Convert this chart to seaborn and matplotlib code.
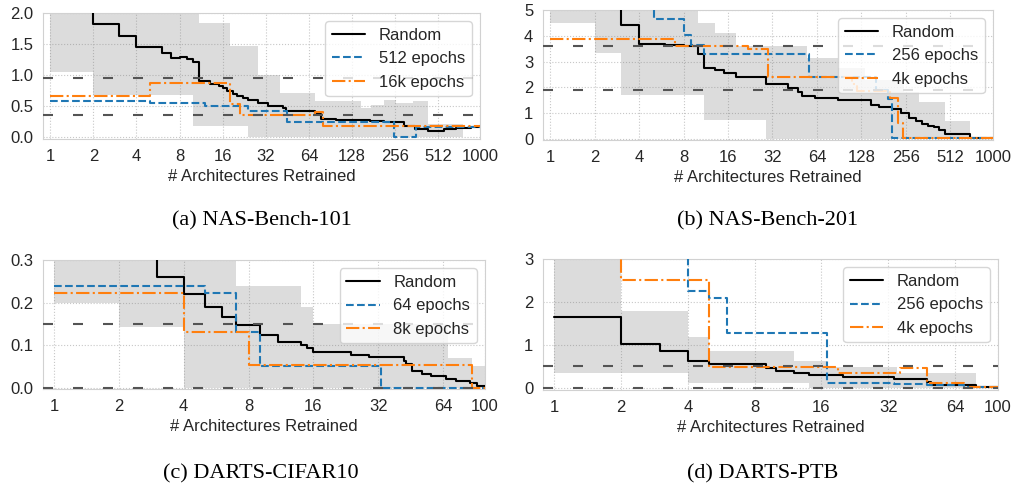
import numpy as np
import pandas as pd
import matplotlib
matplotlib.use("Agg")
import matplotlib.pyplot as plt
from matplotlib.ticker import FixedLocator, FixedFormatter, NullLocator, FormatStrFormatter
import seaborn as sns

# ---- (a) NAS-Bench-101 ----
rand_a_x = [1, 2, 3, 4, 6, 7, 8, 9, 10, 11, 13, 15, 16, 17, 19, 20, 22, 24, 28, 33, 42, 44, 70, 78, 99, 170, 214, 297, 350, 435, 560, 680, 870, 1000]
rand_a_y = [2.9, 1.82, 1.63, 1.46, 1.36, 1.28, 1.30, 1.26, 1.22, 0.90, 0.86, 0.82, 0.79, 0.75, 0.70, 0.66, 0.63, 0.60, 0.55, 0.51, 0.47, 0.42, 0.37, 0.30, 0.28, 0.26, 0.25, 0.19, 0.14, 0.11, 0.13, 0.15, 0.17, 0.18]
lo_a_x = [1, 5, 12, 24, 45, 250, 360, 1000]
lo_a_y = [0.59, 0.55, 0.51, 0.43, 0.25, 0.01, 0.17, 0.17]
hi_a_x = [1, 5, 18, 21, 70, 80, 1000]
hi_a_y = [0.67, 0.87, 0.54, 0.36, 0.41, 0.18, 0.18]
band_a_x = [1, 2, 10, 11, 18, 24, 28, 40, 71, 148, 173, 214, 258, 340, 435, 760, 1000]
band_a_up = [2.5, 2.5, 2.5, 1.84, 1.47, 1.47, 1.0, 0.71, 0.59, 0.47, 0.52, 0.60, 0.55, 0.58, 0.22, 0.18, 0.18]
band_a_low = [1.05, 0.69, 0.18, 0.18, 0.18, 0.0, 0.0, 0.0, 0.0, 0.0, 0.0, 0.0, 0.0, 0.0, 0.0, 0.18, 0.18]
ref_a = [0.95, 0.36]
labels_a = ["512 epochs", "16k epochs"]

# ---- (b) NAS-Bench-201 ----
rand_b_x = [1, 3, 4, 6, 8, 10, 11, 13, 15, 18, 29, 41, 48, 51, 62, 89, 149, 170, 208, 239, 270, 300, 330, 360, 400, 430, 470, 700, 1000]
rand_b_y = [7.0, 4.42, 3.70, 3.66, 3.60, 3.28, 2.76, 2.67, 2.55, 2.42, 2.14, 1.99, 1.82, 1.68, 1.59, 1.51, 1.30, 1.25, 1.15, 1.0, 0.82, 0.70, 0.58, 0.50, 0.45, 0.35, 0.21, 0.03, 0.03]
lo_b_x = [1, 5, 8, 9, 11, 57, 160, 195, 208, 1000]
lo_b_y = [6.0, 4.65, 4.05, 3.66, 3.28, 2.40, 1.90, 1.55, 0.03, 0.03]
hi_b_x = [1, 7, 22, 30, 110, 120, 200, 226, 245, 1000]
hi_b_y = [3.88, 3.62, 3.50, 2.40, 2.15, 1.85, 1.58, 0.6, 0.03, 0.03]
band_b_x = [1, 2, 3, 10, 11, 13, 18, 29, 55, 89, 135, 250, 317, 470, 700, 1000]
band_b_up = [6.0, 6.0, 6.0, 4.5, 4.5, 4.1, 3.62, 3.62, 3.15, 2.75, 2.3, 1.83, 1.45, 0.7, 0.05, 0.05]
band_b_low = [4.5, 3.32, 1.7, 1.7, 0.74, 0.74, 0.74, 0.0, 0.0, 0.0, 0.0, 0.0, 0.0, 0.0, 0.03, 0.03]
ref_b = [3.62, 1.9]
labels_b = ["256 epochs", "4k epochs"]

# ---- (c) DARTS-CIFAR10 ----
rand_c_x = [1, 2, 3, 4, 5, 6, 7, 9, 11, 14, 15, 16, 24, 29, 42, 43, 46, 51, 56, 66, 73, 85, 92, 100]
rand_c_y = [0.45, 0.33, 0.259, 0.22, 0.189, 0.165, 0.148, 0.125, 0.108, 0.10, 0.093, 0.085, 0.078, 0.072, 0.063, 0.055, 0.04, 0.033, 0.028, 0.02, 0.015, 0.01, 0.005, 0.005]
lo_c_x = [1, 5, 7, 9, 33, 100]
lo_c_y = [0.24, 0.222, 0.132, 0.052, 0.0, 0.0]
hi_c_x = [1, 4, 8, 87, 100]
hi_c_y = [0.222, 0.132, 0.053, 0.0, 0.0]
band_c_x = [1, 2, 4, 7, 14, 16, 67, 87, 100]
band_c_up = [0.35, 0.35, 0.35, 0.24, 0.19, 0.15, 0.07, 0.05, 0.05]
band_c_low = [0.2, 0.143, 0.0, 0.0, 0.0, 0.0, 0.0, 0.0, 0.0]
ref_c = [0.15, 0.0]
labels_c = ["64 epochs", "8k epochs"]

# ---- (d) DARTS-PTB ----
rand_d_x = [1, 2, 3, 4, 5, 9, 10, 12, 14, 20, 34, 48, 50, 72, 80, 100]
rand_d_y = [1.65, 1.03, 0.86, 0.64, 0.56, 0.48, 0.41, 0.35, 0.31, 0.26, 0.21, 0.14, 0.09, 0.07, 0.03, 0.03]
lo_d_x = [1, 4, 5, 6, 17, 34, 48, 70, 100]
lo_d_y = [3.5, 2.27, 2.1, 1.28, 0.13, 0.11, 0.09, 0.03, 0.03]
hi_d_x = [1, 2, 5, 19, 36, 48, 70, 75, 100]
hi_d_y = [4.0, 2.52, 0.5, 0.37, 0.48, 0.12, 0.0, 0.03, 0.03]
band_d_x = [1, 2, 4, 5, 12, 14, 17, 35, 80, 100]
band_d_up = [3.5, 1.79, 1.2, 0.86, 0.64, 0.64, 0.5, 0.35, 0.03, 0.03]
band_d_low = [0.35, 0.35, 0.13, 0.13, 0.13, 0.0, 0.0, 0.0, 0.03, 0.03]
ref_d = [0.53, 0.0]
labels_d = ["256 epochs", "4k epochs"]

xt_1000 = [1, 2, 4, 8, 16, 32, 64, 128, 256, 512, 1000]
xt_100 = [1, 2, 4, 8, 16, 32, 64, 100]

sns.set_style("whitegrid", {"grid.linestyle": ":", "axes.edgecolor": ".82", "grid.color": ".78"})
plt.rcParams["font.family"] = ["Liberation Sans", "DejaVu Sans"]
plt.rcParams["xtick.labelsize"] = 12
plt.rcParams["ytick.labelsize"] = 12
plt.rcParams["axes.labelsize"] = 12
plt.rcParams["legend.fontsize"] = 12

fig = plt.figure(figsize=(10.16, 4.91), dpi=100)


def panel(rect, rx, ry, bx, by, ox, oy, fx, fup, flow, refs, labels, xmax, xt, ylim, yt, yfmt):
    ax = fig.add_axes(rect)
    ax.fill_between(fx, flow, fup, step="post", color="gray", alpha=0.27, lw=0, zorder=1)
    sns.lineplot(x=rx, y=ry, ax=ax, drawstyle="steps-post", color="black", lw=1.5, label="Random", zorder=3)
    sns.lineplot(x=bx, y=by, ax=ax, drawstyle="steps-post", color="#1f77b4", lw=1.5, linestyle="--", label=labels[0], zorder=3)
    sns.lineplot(x=ox, y=oy, ax=ax, drawstyle="steps-post", color="#ff7f0e", lw=1.5, linestyle="-.", label=labels[1], zorder=3)
    for r in refs:
        ax.axhline(r, color="0.33", lw=1.5, dashes=(4.8, 9.6), zorder=4)
    ax.set_xscale("log", base=2)
    ax.set_xlim(0.89, xmax)
    ax.xaxis.set_major_locator(FixedLocator(xt))
    ax.xaxis.set_major_formatter(FixedFormatter([str(t) for t in xt]))
    ax.xaxis.set_minor_locator(NullLocator())
    ax.set_ylim(*ylim)
    ax.set_yticks(yt)
    ax.yaxis.set_major_formatter(FormatStrFormatter(yfmt))
    ax.set_xlabel("# Architectures Retrained")
    ax.set_ylabel("")
    ax.legend(loc="upper right")
    return ax


W, H = 1016, 491
panel([43 / W, 1 - 139 / H, 437 / W, 126 / H], rand_a_x, rand_a_y, lo_a_x, lo_a_y, hi_a_x, hi_a_y,
      band_a_x, band_a_up, band_a_low, ref_a, labels_a, 1000, xt_1000, (-0.025, 2.0), [0, 0.5, 1.0, 1.5, 2.0], "%.1f")
panel([543 / W, 1 - 140 / H, 450 / W, 130 / H], rand_b_x, rand_b_y, lo_b_x, lo_b_y, hi_b_x, hi_b_y,
      band_b_x, band_b_up, band_b_low, ref_b, labels_b, 1000, xt_1000, (-0.04, 5.0), [0, 1, 2, 3, 4, 5], "%d")
panel([43 / W, 1 - 389 / H, 442 / W, 129 / H], rand_c_x, rand_c_y, lo_c_x, lo_c_y, hi_c_x, hi_c_y,
      band_c_x, band_c_up, band_c_low, ref_c, labels_c, 100, xt_100, (-0.003, 0.3), [0, 0.1, 0.2, 0.3], "%.1f")
panel([543 / W, 1 - 390 / H, 455 / W, 131 / H], rand_d_x, rand_d_y, lo_d_x, lo_d_y, hi_d_x, hi_d_y,
      band_d_x, band_d_up, band_d_low, ref_d, labels_d, 100, xt_100, (-0.035, 3.0), [0, 1, 2, 3], "%d")

captions = ["(a) NAS-Bench-101", "(b) NAS-Bench-201", "(c) DARTS-CIFAR10", "(d) DARTS-PTB"]
cap_pos = [(262, 221), (768, 221), (261, 474), (763, 474)]
for c, (cx, cy) in zip(captions, cap_pos):
    fig.text(cx / W, 1 - cy / H, c, ha="center", va="center", fontsize=16,
             family=["Liberation Serif", "DejaVu Serif"], color="black")

fig.savefig("out.png", dpi=100)
